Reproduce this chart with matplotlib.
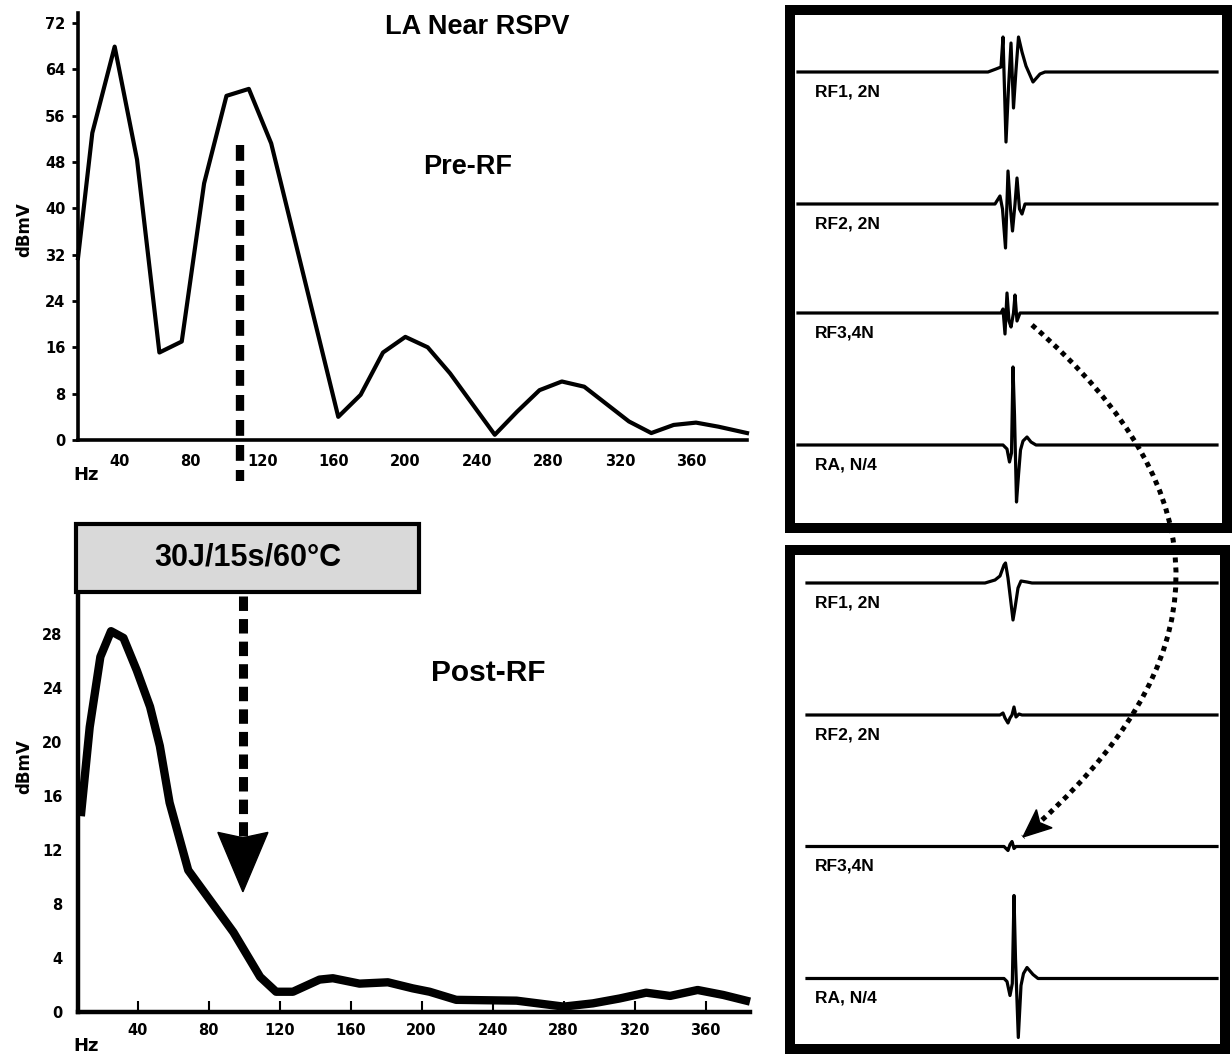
import numpy as np
import matplotlib
matplotlib.use("Agg")
import matplotlib.pyplot as plt
from matplotlib.patches import Rectangle, Polygon, PathPatch
from matplotlib.path import Path

# espectro antes da ablacao (LA near RSPV)
pre_hz = [17, 25, 37.5, 50, 62.5, 75, 87.5, 100, 112.5, 125, 162.5, 175, 187.5, 200,
          212.5, 225, 250, 262.5, 275, 287.5, 300, 325, 337.5, 350, 362.5, 375, 391]
pre_dbmv = [31.4, 53, 67.9, 48.4, 15.1, 17, 44.3, 59.4, 60.6, 51.2, 4.0, 7.8, 15.1, 17.8,
            16.0, 11.5, 0.9, 4.9, 8.6, 10.1, 9.2, 3.2, 1.2, 2.6, 3.0, 2.3, 1.2]

# espectro depois da ablacao
post_hz = [8, 13, 19, 25, 32, 39.5, 47, 52.5, 58, 68.5, 94, 109, 118, 127.5, 142.5, 150,
           165, 181, 195, 204.5, 219.5, 253.5, 280, 296.5, 311.5, 326.5, 340, 355.5, 370, 385]
post_dbmv = [14.5, 21.1, 26.3, 28.2, 27.7, 25.3, 22.6, 19.7, 15.5, 10.5, 5.9, 2.6, 1.5, 1.5,
             2.4, 2.5, 2.1, 2.2, 1.75, 1.5, 0.9, 0.84, 0.4, 0.64, 1.0, 1.43, 1.19, 1.63, 1.26, 0.77]

freq_ticks = [40, 80, 120, 160, 200, 240, 280, 320, 360]
pre_yticks = [0, 8, 16, 24, 32, 40, 48, 56, 64, 72]
post_yticks = [0, 4, 8, 12, 16, 20, 24, 28]

pre_marca_hz = 107.6   # linha tracejada no grafico de cima
post_marca_hz = 99.3   # seta no grafico de baixo
rotulo_rf = "30J/15s/60°C"
nomes_canais = ["RF1, 2N", "RF2, 2N", "RF3,4N", "RA, N/4"]

# eletrogramas (tempo em ms, amplitude em unidades arbitrarias)
rf1_pre_t = [0, 190, 198, 203, 205, 208, 210.5, 213, 215.5, 218, 220.5, 224, 228, 235, 242, 247, 419]
rf1_pre_v = [0, 0, 3, 5, 35, -70, -16, 29, -36, 2, 35, 20, 6, -10, -2, 0, 0]
rf2_pre_t = [0, 197, 202, 204.5, 207.5, 210, 212.5, 214.5, 217, 219, 221.5, 224, 227, 419]
rf2_pre_v = [0, 0, 8, -5, -44, 33, -5, -27, 0, 26, -5, -10, 0, 0]
rf3_pre_t = [0, 203, 205, 207, 209, 211, 213, 215.5, 217, 219, 222, 419]
rf3_pre_v = [0, 0, 4, -21, 20, -8, -14, 0, 18, -8, 0, 0]
ra_pre_t = [0, 205, 209, 211.5, 213.5, 215, 216.5, 218.5, 220.5, 222.5, 225, 229, 233, 238, 419]
ra_pre_v = [0, 0, -4, -17, -8, 78, 30, -57, -30, -5, 4, 8, 3, 0, 0]

rf1_post_t = [9, 187, 197, 202, 206, 207.5, 210, 213, 215, 217, 220, 223, 229, 234, 419]
rf1_post_v = [0, 0, 3, 7, 18, 20, 5, -20, -37, -25, -5, 2, 1, 0, 0]
rf2_post_t = [9, 202, 205, 207, 210, 212, 214, 216, 218, 221, 224, 419]
rf2_post_v = [0, 0, 2, -3, -8, -3, 0, 8, -2, 1, 0, 0]
rf3_post_t = [9, 206, 208, 210, 212, 214, 216, 218, 419]
rf3_post_v = [0, 0, -2, -4, 2, 5, -2, 0, 0]
ra_post_t = [9, 206, 209, 212, 214.3, 216, 217.5, 220.3, 223, 225.5, 229, 235, 240, 419]
ra_post_v = [0, 0, -3, -17, -5, 83, 20, -59, -7, 5, 11, 4, 0, 0]

W, H = 1232, 1054
fig = plt.figure(figsize=(W / 100, H / 100), dpi=100)

fonte_tit = "Liberation Sans"
fonte_eixo = "DejaVu Sans"


def caixa(l, t, r, b):
    # converte pixels (origem no topo) para fracao da figura
    return [l / W, 1 - b / H, (r - l) / W, (b - t) / H]


def estilo_espectro(ax, lw):
    for s in ["top", "right"]:
        ax.spines[s].set_visible(False)
    for s in ["left", "bottom"]:
        ax.spines[s].set_linewidth(lw)
    for lab in ax.get_xticklabels() + ax.get_yticklabels():
        lab.set_fontfamily(fonte_eixo)
        lab.set_fontweight("bold")
        lab.set_fontsize(10.5)


# ---- grafico de cima (Pre-RF)
ax1 = fig.add_axes(caixa(78, 13, 747, 440))
ax1.plot(pre_hz, pre_dbmv, color="black", lw=3, clip_on=False)
ax1.set_xlim(17, 391)
ax1.set_ylim(0, 73.7)
ax1.set_xticks(freq_ticks)
ax1.set_yticks(pre_yticks)
ax1.tick_params(axis="x", length=0, pad=10)
ax1.tick_params(axis="y", direction="out", length=4, width=2, pad=5)
estilo_espectro(ax1, 2.6)
ax1.plot([pre_marca_hz, pre_marca_hz], [51, -7], color="black", lw=6,
         ls=(0, (1.9, 1.1)), dash_capstyle="butt", clip_on=False)

# ---- grafico de baixo (Post-RF)
ax2 = fig.add_axes(caixa(78, 592, 750, 1012))
ax2.plot(post_hz, post_dbmv, color="black", lw=6, clip_on=False,
         solid_joinstyle="round", solid_capstyle="butt")
ax2.set_xlim(6.4, 385)
ax2.set_ylim(0, 31.1)
ax2.set_xticks(freq_ticks)
ax2.set_yticks(post_yticks)
ax2.tick_params(axis="x", direction="in", length=8, width=1.5, pad=8)
ax2.tick_params(axis="y", length=0, pad=11)
estilo_espectro(ax2, 3.2)
ax2.plot([post_marca_hz, post_marca_hz], [30.8, 13.0], color="black", lw=6.5,
         ls=(0, (1.6, 0.9)), dash_capstyle="butt", clip_on=False)
# ponta da seta
larg, ponta, base = 14.1, 8.9, 13.3
ax2.add_patch(Polygon([(post_marca_hz - larg, base), (post_marca_hz, base - 0.4),
                       (post_marca_hz + larg, base), (post_marca_hz, ponta)],
                      closed=True, color="black", clip_on=False))

# ---- eletrogramas
paineis = [
    (caixa(790, 10, 1227, 528), (528, 10), [72, 204, 313, 445],
     [(rf1_pre_t, rf1_pre_v), (rf2_pre_t, rf2_pre_v), (rf3_pre_t, rf3_pre_v), (ra_pre_t, ra_pre_v)]),
    (caixa(790, 550, 1225, 1049), (1049, 550), [583, 715, 846.5, 978.5],
     [(rf1_post_t, rf1_post_v), (rf2_post_t, rf2_post_v), (rf3_post_t, rf3_post_v), (ra_post_t, ra_post_v)]),
]
for pos, ylim, bases, tracos in paineis:
    ax = fig.add_axes(pos)
    ax.set_xlim(-8, 429 if pos[2] > 0.3547 else 427)
    ax.set_ylim(*ylim)
    ax.set_xticks([])
    ax.set_yticks([])
    for s in ax.spines.values():
        s.set_linewidth(7.2)
    for (t, v), b, nome in zip(tracos, bases, nomes_canais):
        ax.plot(t, b - np.array(v), color="black", lw=2.3)
        ax.text(17, b + 20, nome, fontsize=12.5, fontweight="bold",
                fontfamily=fonte_tit, va="center", ha="left")

# ---- camada de anotacoes em pixels
ov = fig.add_axes([0, 0, 1, 1])
ov.set_xlim(0, W)
ov.set_ylim(H, 0)
ov.axis("off")

ov.text(477, 27, "LA Near RSPV", fontsize=19.5, fontweight="bold", fontfamily=fonte_tit,
        ha="center", va="center")
ov.text(468, 167, "Pre-RF", fontsize=19.5, fontweight="bold", fontfamily=fonte_tit,
        ha="center", va="center")
ov.text(488, 673, "Post-RF", fontsize=21.5, fontweight="bold", fontfamily=fonte_tit,
        ha="center", va="center")

ov.add_patch(Rectangle((76, 524), 343, 68, facecolor="#d9d9d9", edgecolor="black", lw=3))
ov.text(248, 558, rotulo_rf, fontsize=22, fontweight="bold", fontfamily=fonte_tit,
        ha="center", va="center")

for y in [230, 767]:
    ov.text(24, y, "dBmV", rotation=90, fontsize=12, fontweight="bold",
            fontfamily=fonte_eixo, ha="center", va="center")
for y in [475, 1046]:
    ov.text(86, y, "Hz", fontsize=13, fontweight="bold", fontfamily=fonte_eixo,
            ha="center", va="center")

# seta pontilhada curva entre os paineis
A = np.array([1032.0, 325.0])
C = np.array([1324.5, 578.0])
B = np.array([1023.0, 837.0])
arco = Path([A, C, B], [Path.MOVETO, Path.CURVE3, Path.CURVE3])
ov.add_patch(PathPatch(arco, facecolor="none", edgecolor="black", lw=3.6,
                       ls=(0, (1, 1)), capstyle="butt"))
u = (B - C) / np.hypot(*(B - C))
p = np.array([-u[1], u[0]])
ov.add_patch(Polygon([B, B - 28 * u + 12 * p, B - 22 * u, B - 28 * u - 12 * p],
                     closed=True, color="black"))

fig.savefig("out.png", dpi=100)
